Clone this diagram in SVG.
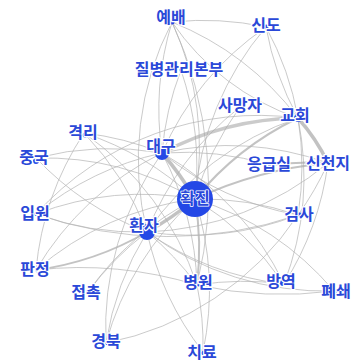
<svg xmlns="http://www.w3.org/2000/svg" width="360" height="364" viewBox="0 0 360 364">
<style>
.e{fill:none;stroke:#b4b4b4;stroke-opacity:0.7;stroke-width:1}
.m{stroke-width:2;stroke:#aaa}
.t{stroke-width:3.5;stroke:#a8a8a8}
.d{fill:#2448e6}
.l{font-family:"Noto Sans CJK KR","Noto Sans",sans-serif;font-size:16px;font-weight:bold;fill:#2a48d8;text-anchor:middle;dominant-baseline:central;stroke:#fff;stroke-width:2.5px;paint-order:stroke;stroke-linejoin:round}
</style>
<rect width="360" height="364" fill="#fff"/>
<g id="edges">
<path class="e" d="M172 22 A300 300 0 0 1 266 27"/>
<path class="e" d="M172 22 A300 300 0 0 1 298 118"/>
<path class="e" d="M172 22 A250 250 0 0 0 298 118"/>
<path class="e" d="M172 22 A300 300 0 0 0 162 153"/>
<path class="e" d="M172 22 A300 300 0 0 1 195 199"/>
<path class="e" d="M172 22 A300 300 0 0 0 147 232"/>
<path class="e" d="M172 22 A400 400 0 0 1 197 285"/>
<path class="e" d="M266 27 A300 300 0 0 1 298 118"/>
<path class="e" d="M266 27 A300 300 0 0 0 298 118"/>
<path class="e" d="M266 27 A300 300 0 0 0 162 153"/>
<path class="e" d="M266 27 A300 300 0 0 0 195 199"/>
<path class="e" d="M181 70 A300 300 0 0 1 195 199"/>
<path class="e" d="M181 70 A300 300 0 0 0 162 153"/>
<path class="e" d="M240 107 A300 300 0 0 0 195 199"/>
<path class="e" d="M240 107 A300 300 0 0 0 147 232"/>
<path class="t" d="M162 153 A300 300 0 0 1 298 118" style="fill:none;stroke-opacity:0.6"/>
<path class="m e" d="M298 118 A300 300 0 0 0 195 199"/>
<path class="t e" d="M298 118 A200 200 0 0 1 328 163"/>
<path class="e" d="M298 118 A300 300 0 0 1 298 215"/>
<path class="e" d="M298 118 A300 300 0 0 0 147 232"/>
<path class="e" d="M298 118 A300 300 0 0 1 284 284"/>
<path class="e" d="M298 118 A300 300 0 0 0 36 214"/>
<path class="t e" d="M162 153 A300 300 0 0 1 195 199"/>
<path class="t e" d="M195 199 A300 300 0 0 1 147 232"/>
<path class="m e" d="M195 199 A400 400 0 0 1 328 163"/>
<path class="m e" d="M270 165 A300 300 0 0 1 328 163"/>
<path class="e" d="M162 153 A300 300 0 0 1 328 163"/>
<path class="e" d="M162 153 A300 300 0 0 1 270 165"/>
<path class="m e" d="M195 199 A300 300 0 0 1 197 285"/>
<path class="m e" d="M147 232 A300 300 0 0 1 36 270"/>
<path class="e" d="M84 133 A300 300 0 0 1 195 199"/>
<path class="e" d="M84 133 A300 300 0 0 1 147 232"/>
<path class="e" d="M84 133 A300 300 0 0 1 162 153"/>
<path class="e" d="M84 133 A300 300 0 0 0 36 270"/>
<path class="e" d="M84 133 A300 300 0 0 1 197 285"/>
<path class="e" d="M36 158 A300 300 0 0 1 195 199"/>
<path class="e" d="M36 158 A300 300 0 0 0 147 232"/>
<path class="e" d="M36 158 A300 300 0 0 1 162 153"/>
<path class="e" d="M36 214 A300 300 0 0 1 195 199"/>
<path class="e" d="M36 214 A300 300 0 0 0 147 232"/>
<path class="e" d="M36 214 A300 300 0 0 1 162 153"/>
<path class="e" d="M36 214 A400 400 0 0 0 298 215"/>
<path class="e" d="M36 270 A300 300 0 0 1 195 199"/>
<path class="e" d="M36 270 A400 400 0 0 1 197 285"/>
<path class="e" d="M36 270 A300 300 0 0 1 162 153"/>
<path class="e" d="M88 292 A300 300 0 0 1 195 199"/>
<path class="e" d="M88 292 A300 300 0 0 1 147 232"/>
<path class="e" d="M197 285 A300 300 0 0 1 284 284"/>
<path class="e" d="M197 285 A400 400 0 0 0 334 291"/>
<path class="e" d="M197 285 A300 300 0 0 1 203 352"/>
<path class="e" d="M197 285 A300 300 0 0 0 147 232"/>
<path class="e" d="M197 285 A300 300 0 0 0 162 153"/>
<path class="e" d="M284 284 A300 300 0 0 0 195 199"/>
<path class="e" d="M284 284 A300 300 0 0 1 147 232"/>
<path class="e" d="M284 284 A300 300 0 0 0 328 163"/>
<path class="e" d="M284 284 A300 300 0 0 0 162 153"/>
<path class="e" d="M334 291 A300 300 0 0 0 195 199"/>
<path class="e" d="M334 291 A300 300 0 0 1 147 232"/>
<path class="e" d="M106 343 A300 300 0 0 1 195 199"/>
<path class="e" d="M106 343 A300 300 0 0 1 162 153"/>
<path class="e" d="M106 343 A300 300 0 0 1 147 232"/>
<path class="e" d="M106 343 A300 300 0 0 0 298 215"/>
<path class="e" d="M203 352 A300 300 0 0 0 195 199"/>
<path class="e" d="M203 352 A300 300 0 0 1 147 232"/>
<path class="e" d="M298 215 A300 300 0 0 0 195 199"/>
<path class="e" d="M298 215 A300 300 0 0 1 147 232"/>
<path class="e" d="M298 215 A300 300 0 0 0 328 163"/>
<path class="e" d="M298 215 A300 300 0 0 1 162 153"/>
<path class="e" d="M328 163 A300 300 0 0 1 147 232"/>
</g>
<g id="n-yebae"><circle class="d" cx="172" cy="22" r="2.5"/><text class="l" x="171" y="16">예배</text></g>
<g id="n-sindo"><circle class="d" cx="266" cy="27" r="2.5"/><text class="l" x="266" y="24">신도</text></g>
<g id="n-kcdc"><circle class="d" cx="181" cy="70" r="2"/><text class="l" x="179" y="68">질병관리본부</text></g>
<g id="n-samangja"><circle class="d" cx="240" cy="107" r="2"/><text class="l" x="240" y="104">사망자</text></g>
<g id="n-gyohoe"><circle class="d" cx="298" cy="118" r="4"/><text class="l" x="295" y="114">교회</text></g>
<g id="n-gyeokri"><circle class="d" cx="85" cy="135" r="2.5"/><text class="l" x="83" y="131">격리</text></g>
<g id="n-daegu"><circle class="d" cx="162" cy="153" r="7"/><text class="l" x="161" y="145">대구</text></g>
<g id="n-junggук"><circle class="d" cx="36" cy="161" r="3"/><text class="l" x="34" y="156">중국</text></g>
<g id="n-eunggeupsil"><circle class="d" cx="270" cy="165" r="2"/><text class="l" x="269" y="163">응급실</text></g>
<g id="n-sincheonji"><circle class="d" cx="328" cy="163" r="3"/><text class="l" x="328" y="162">신천지</text></g>
<g id="n-hwakjin"><circle class="d" cx="195" cy="199" r="18"/><text class="l" x="195" y="197" style="stroke-width:1.5px">확진</text></g>
<g id="n-geomsa"><circle class="d" cx="300" cy="215" r="2.5"/><text class="l" x="299" y="213">검사</text></g>
<g id="n-ibwon"><circle class="d" cx="36" cy="214" r="2"/><text class="l" x="35" y="212">입원</text></g>
<g id="n-hwanja"><circle class="d" cx="147" cy="232" r="8"/><text class="l" x="144" y="224">환자</text></g>
<g id="n-panjeong"><circle class="d" cx="38" cy="270" r="2.5"/><text class="l" x="35" y="268">판정</text></g>
<g id="n-jeopchok"><circle class="d" cx="88" cy="292" r="2"/><text class="l" x="86" y="291">접촉</text></g>
<g id="n-byeongwon"><circle class="d" cx="199" cy="284" r="2.5"/><text class="l" x="198" y="281">병원</text></g>
<g id="n-bangyeok"><circle class="d" cx="283" cy="283" r="3"/><text class="l" x="281" y="280">방역</text></g>
<g id="n-pyeswae"><circle class="d" cx="336" cy="291" r="2"/><text class="l" x="336" y="290">폐쇄</text></g>
<g id="n-gyeongbuk"><circle class="d" cx="107" cy="343" r="2"/><text class="l" x="106" y="340">경북</text></g>
<g id="n-chiryo"><circle class="d" cx="203" cy="353" r="2"/><text class="l" x="202" y="351">치료</text></g>
</svg>
